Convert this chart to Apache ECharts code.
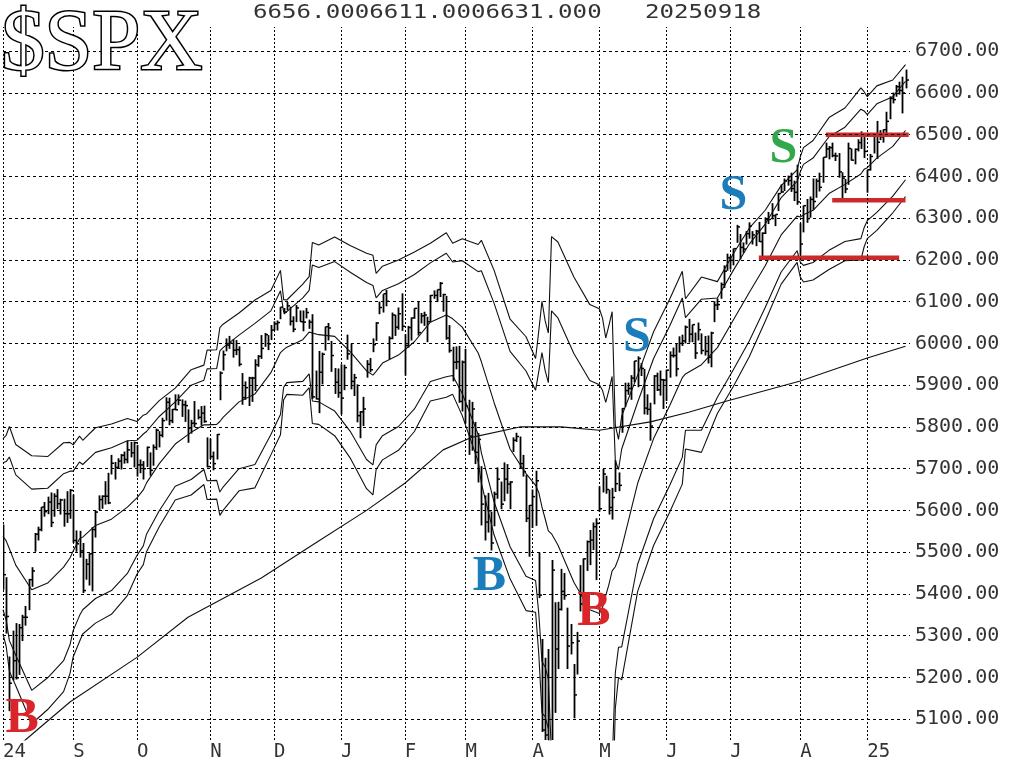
<!DOCTYPE html>
<html>
<head>
<meta charset="utf-8">
<title>$SPX</title>
<script src="https://cdn.jsdelivr.net/npm/echarts@6/dist/echarts.min.js"></script>
<style>
  html, body { margin: 0; padding: 0; background: #fff; }
  #chart { width: 1021px; height: 763px; }
</style>
</head>
<body>
<div id="chart"></div>
<script>
// daily bars, one per trading day, Aug 1 2024 .. Sep 18 2025
const highs = [
  5566,5440,5250,5312,5330,5328,5350,5371,5436,5464,5546,5561,5608,5620,5633,5643,5641,5651,5628,5628,5646,5651, // aug
  5638,5552,5551,5522,5484,5497,5560,5600,5636,5636,5670,5690,5733,5716,5725,5735,5741,5767,5764,5765, // sep
  5757,5722,5718,5753,5739,5758,5796,5790,5822,5871,5870,5843,5878,5878,5866,5863,5842,5817,5862,5842,5850,5851,5775, // oct
  5772,5741,5783,5933,5983,6012,6018,6010,6008,5993,5929,5909,5920,5920,5962,5972,6020,6025,6020,6044, // nov
  6053,6055,6087,6085,6099,6088,6065,6092,6079,6079,6085,6057,6070,5935,5982,5978,6040,6049,6006,5941,5940, // dec
  5950,5949,6021,6000,5927,5902,5838,5872,5960,5965,6012,6051,6100,6118,6128,6017,6074,6069,6086,6120, // jan
  6022,6042,6062,6084,6101,6073,6076,6064,6116,6127,6129,6147,6119,6114,6044,5992,5993,5994,5959, // feb
  5987,5865,5860,5812,5785,5706,5636,5642,5597,5645,5703,5669,5715,5711,5670,5775,5786,5777,5733,5685,5613, // mar
  5650,5695,5499,5292,5247,5268,5481,5380,5381,5460,5450,5367,5328,5232,5309,5469,5485,5528,5553,5571,5581, // apr
  5658,5700,5683,5650,5654,5720,5691,5845,5906,5906,5924,5958,5969,5953,5939,5878,5858,5924,5930,5935,5915, // may
  5937,5981,5990,5999,6017,6021,6043,6059,6045,6026,6050,6024,6018,6019,6028,6101,6108,6146,6187,6215, // jun
  6210,6227,6284,6262,6242,6269,6290,6269,6272,6291,6266,6302,6315,6336,6309,6360,6381,6395,6402,6409,6390,6428, // jul
  6288,6330,6346,6352,6395,6395,6409,6446,6481,6473,6481,6457,6456,6410,6394,6481,6467,6467,6489,6508,6495, // aug
  6416,6454,6503,6533,6511,6513,6555,6592,6601,6619,6627,6639,6656 // sep
];
const lows = [
  5410,5305,5119,5193,5195,5206,5287,5324,5361,5417,5501,5528,5550,5585,5591,5560,5585,5603,5590,5561,5570,5580,
  5522,5501,5487,5402,5434,5420,5406,5535,5601,5604,5614,5615,5686,5674,5701,5698,5712,5713,5727,5703,
  5681,5689,5674,5704,5683,5707,5745,5751,5775,5815,5804,5809,5840,5852,5824,5812,5762,5784,5799,5818,5803,5810,5703,
  5723,5696,5722,5864,5935,5981,5987,5966,5972,5945,5853,5865,5850,5860,5886,5944,5963,5992,5984,6008,
  6031,6031,6058,6070,6079,6043,6027,6051,6052,6029,6060,6035,5867,5866,5833,5902,5983,6007,5932,5879,5870,
  5830,5888,5961,5890,5874,5811,5773,5802,5918,5931,5979,6006,6070,6074,6089,5962,6010,6018,6033,6030,
  5923,5990,6007,6059,6019,6048,6042,6003,6051,6107,6099,6111,6076,6009,5978,5909,5938,5858,5837,
  5808,5733,5743,5711,5667,5564,5528,5547,5504,5562,5628,5603,5622,5640,5603,5740,5764,5701,5681,5572,5489,
  5558,5563,5390,5069,4835,4910,4857,5115,5220,5360,5386,5220,5255,5102,5207,5358,5371,5455,5469,5505,5433,
  5597,5643,5640,5590,5578,5644,5646,5786,5848,5877,5865,5907,5895,5922,5830,5829,5767,5854,5886,5875,5843,
  5862,5918,5966,5921,5978,5994,6000,6002,6003,5963,6007,5974,5971,5952,5943,6051,6080,6107,6133,6174,
  6177,6187,6241,6201,6217,6237,6251,6237,6233,6243,6201,6262,6286,6297,6281,6317,6360,6365,6378,6363,6341,6332,
  6212,6266,6289,6301,6320,6349,6364,6385,6445,6441,6446,6437,6397,6344,6360,6380,6438,6429,6460,6466,6444,
  6361,6414,6455,6442,6487,6481,6499,6537,6575,6591,6596,6551,6611
];
const closes = [
  5446,5346,5186,5240,5199,5319,5344,5344,5434,5455,5543,5554,5608,5597,5620,5571,5634,5616,5625,5592,5592,5648,
  5528,5520,5503,5408,5471,5496,5554,5596,5626,5634,5634,5618,5713,5703,5718,5732,5722,5745,5738,5762,
  5709,5709,5700,5751,5696,5751,5792,5780,5815,5859,5815,5842,5841,5864,5853,5851,5797,5809,5808,5823,5833,5813,5705,
  5729,5712,5782,5929,5973,5996,6001,5984,5985,5950,5870,5894,5917,5917,5949,5969,5988,6021,5999,6032,
  6047,6050,6087,6075,6090,6053,6034,6085,6052,6051,6074,6051,5872,5867,5931,5974,6040,6037,5971,5907,5882,
  5869,5942,5975,5909,5918,5827,5836,5843,5950,5937,5997,6049,6086,6119,6101,6012,6068,6039,6071,6041,
  5995,6038,6061,6084,6026,6066,6068,6052,6115,6115,6129,6144,6117,6013,5983,5955,5956,5861,5955,
  5850,5778,5843,5739,5770,5615,5572,5599,5522,5639,5675,5615,5675,5663,5668,5768,5777,5712,5693,5581,5612,
  5633,5671,5397,5074,5062,4982,5457,5268,5363,5406,5396,5275,5283,5158,5287,5376,5484,5525,5529,5561,5569,
  5604,5687,5650,5607,5631,5664,5660,5844,5887,5892,5917,5958,5964,5940,5845,5842,5802,5922,5889,5913,5912,
  5936,5971,5971,5939,6000,6006,6039,6022,6045,5977,6033,5983,5981,5967,6025,6092,6093,6141,6173,6205,
  6199,6227,6279,6230,6226,6263,6281,6260,6269,6244,6264,6297,6297,6306,6309,6359,6363,6389,6390,6371,6362,6339,
  6238,6330,6299,6345,6340,6389,6374,6446,6466,6469,6450,6449,6411,6396,6370,6467,6439,6465,6481,6502,6460,
  6416,6448,6502,6482,6495,6512,6532,6587,6584,6615,6606,6600,6631
];
const lastDate = '20250918';

// month gridlines (bar index of first trading day) and their labels
const monthStart = [0, 22, 42, 65, 85, 106, 126, 145, 166, 187, 208, 228, 250, 271];
const monthLabel = ['24', 'S', 'O', 'N', 'D', 'J', 'F', 'M', 'A', 'M', 'J', 'J', 'A', '25'];
const priceTicks = [5100, 5200, 5300, 5400, 5500, 5600, 5700, 5800, 5900, 6000, 6100, 6200, 6300, 6400, 6500, 6600, 6700];

// band lines at these bar indexes
const bandIdx = [0,1,2,4,9, 14,19,21,22,24, 25,29,34,39,42, 44,45,49,54,59, 63,64,67,68,69, 74,79,84,87,88,
  89,94,96,97,99, 104,109,114,116,117, 119,124,129,134,139, 141,144,149,150,154, 159,164,167,168,169,
  170,171,172,174,179, 184,187,188,189,190, 191,192,193,194,199, 204,209,213,214,219, 224,229,234,239,244,
  249,250,251,254,259, 264,269,270,271,274, 279,283];
const upper4 = [5772,5780,5801,5758,5731, 5729,5762,5763,5757,5778, 5768,5798,5807,5820,5813, 5828,5831,5863,5893,5937,
  5948,5984,5985,6038,6046, 6073,6104,6127,6175,6105, 6104,6142,6160,6242,6236, 6255,6234,6216,6211,6168,
  6185,6200,6219,6240,6265, 6240,6251,6237,6247,6175, 6058,6016,5964,6030,6101, 6054,6025,6256,6243,6159,
  6093,6083,6060,6013,6043, 6076,5804,5770,5826,5924, 6028,6105,6173,6107,6159, 6148,6215,6276,6319,6378,
  6416,6447,6469,6486,6541, 6564,6612,6603,6591,6617, 6631,6668];
const upper3 = [5714,5717,5728,5685,5651, 5653,5688,5694,5694,5716, 5710,5739,5750,5767,5768, 5783,5789,5825,5860,5900,
  5912,5939,5940,5982,5990, 6020,6048,6078,6126,6075, 6076,6109,6127,6188,6182, 6196,6170,6146,6139,6109,
  6127,6143,6165,6193,6216, 6195,6198,6172,6174,6096, 5981,5934,5888,5933,5978, 5935,5906,6078,6061,5976,
  5911,5901,5887,5859,5888, 5921,5719,5698,5747,5859, 5964,6041,6109,6062,6106, 6109,6175,6238,6286,6349,
  6388,6411,6429,6444,6495, 6518,6561,6557,6548,6574, 6591,6628];
const mid20 = [5538,5527,5508,5469,5410, 5426,5464,5486,5503,5532, 5536,5564,5579,5608,5630, 5649,5666,5712,5759,5787,
  5805,5805,5806,5813,5823, 5860,5879,5930,5978,5985, 5991,6009,6027,6025,6021, 6017,5979,5934,5924,5933,
  5953,5972,6004,6051,6068, 6059,6039,5977,5956,5858, 5747,5688,5660,5643,5608, 5580,5551,5544,5517,5428,
  5362,5353,5368,5396,5423, 5455,5465,5485,5510,5665, 5772,5850,5918,5927,5949, 5990,6056,6122,6186,6260,
  6305,6303,6308,6319,6359, 6381,6406,6417,6421,6444, 6472,6510];
const lower3 = [5362,5337,5288,5253,5169, 5199,5240,5278,5312,5348, 5362,5389,5408,5449,5492, 5515,5543,5599,5658,5674,
  5698,5671,5672,5644,5656, 5700,5710,5782,5830,5895, 5906,5909,5927,5862,5860, 5838,5788,5722,5709,5757,
  5779,5801,5843,5909,5920, 5923,5880,5782,5738,5620, 5513,5442,5432,5353,5238, 5225,5196,5010,4973,4880,
  4813,4805,4849,4933,4958, 4989,5211,5272,5273,5471, 5580,5659,5727,5792,5792, 5871,5937,6006,6086,6171,
  6222,6195,6187,6194,6223, 6244,6251,6277,6294,6314, 6353,6392];
const lower4 = [5304,5274,5215,5180,5089, 5123,5166,5209,5249,5286, 5304,5330,5351,5396,5447, 5470,5501,5561,5625,5637,
  5662,5626,5627,5588,5600, 5647,5654,5733,5781,5865, 5878,5876,5894,5808,5806, 5779,5724,5652,5637,5698,
  5721,5744,5789,5862,5871, 5878,5827,5717,5665,5541, 5436,5360,5356,5256,5115, 5106,5077,4832,4791,4697,
  4631,4623,4676,4779,4803, 4834,5126,5200,5194,5406, 5516,5595,5663,5747,5739, 5832,5897,5968,6053,6142,
  6194,6159,6147,6152,6177, 6198,6200,6231,6251,6271, 6313,6352];

// 200-day average
const ma200Idx = [0, 7, 21, 42, 58, 81, 98, 114, 126, 138, 147, 162, 175, 187, 203, 215, 227, 250, 271, 283];
const ma200 = [5005, 5050, 5141, 5248, 5344, 5438, 5522, 5600, 5665, 5745, 5775, 5800, 5800, 5792, 5812, 5835, 5862, 5910, 5965, 5993];

// red support levels
const levelPrice = [6500, 6343, 6205];
const levelFrom = [258, 260, 237];
const levelTo = [284, 283, 281];

// signal letters
const sigText = ['B', 'B', 'B', 'S', 'S', 'S'];
const sigIdx = [6, 152.5, 185.3, 198.8, 229, 244.7];
const sigPrice = [5100, 5440, 5356, 6013, 6353, 6465];
const sigKind = ['red', 'blue', 'red', 'blue', 'blue', 'green'];

const kindColor = { red: '#d8262b', blue: '#1b7db9', green: '#33a84b' };
const monoFont = '"DejaVu Sans Mono", "Liberation Mono", monospace';
const serifFont = '"Liberation Serif", "DejaVu Serif", serif';

const zip = (xs, ys) => xs.map((x, k) => [x, ys[k]]);
const bars = highs.map((h, i) => [i, h, lows[i], closes[i]]);
const last = highs.length - 1;

const bandLine = (data) => ({
  type: 'line', data: data, symbol: 'none', clip: true, silent: true, z: 3,
  lineStyle: { color: '#111', width: 1.1 }
});

const chart = echarts.init(document.getElementById('chart'), null, { renderer: 'canvas' });

chart.setOption({
  animation: false,
  backgroundColor: '#fff',
  grid: { left: 0, right: 111, top: 27, bottom: 23, containLabel: false },
  xAxis: {
    type: 'value', min: 0, max: 284.4,
    axisLine: { show: false }, axisTick: { show: false }, splitLine: { show: false },
    axisLabel: {
      customValues: monthStart,
      formatter: v => monthLabel[monthStart.indexOf(v)],
      align: 'left', margin: 3, color: '#333', fontSize: 19, fontFamily: monoFont
    }
  },
  yAxis: {
    type: 'value', min: 5050, max: 6758, position: 'right',
    axisLine: { show: false }, axisTick: { show: false }, splitLine: { show: false },
    axisLabel: {
      customValues: priceTicks,
      formatter: v => v.toFixed(2),
      margin: 5, color: '#333', fontSize: 20, fontFamily: monoFont
    }
  },
  graphic: [
    { type: 'text', left: 0, top: 2, z: 10,
      style: { text: '$SPX', font: '86px ' + serifFont, fill: '#fff', stroke: '#000', lineWidth: 3 } },
    { type: 'text', left: 253, top: 4, scaleX: 1.27, z: 10,
      style: { text: highs[last].toFixed(3) + lows[last].toFixed(3) + closes[last].toFixed(3),
               font: '19px ' + monoFont, fill: '#333' } },
    { type: 'text', left: 645, top: 4, scaleX: 1.27, z: 10,
      style: { text: lastDate, font: '19px ' + monoFont, fill: '#333' } }
  ],
  series: [
    { // dashed grid
      type: 'line', data: [], silent: true, z: 1,
      markLine: {
        silent: true, symbol: ['none', 'none'], label: { show: false }, animation: false,
        lineStyle: { color: '#000', width: 1, type: [3, 3] },
        data: priceTicks.map(v => ({ yAxis: v }))
          .concat(monthStart.map(i => ({ xAxis: i, lineStyle: { type: [2, 2] } })))
      }
    },
    {
      type: 'custom', data: bars, clip: true, silent: true, z: 2,
      renderItem: function (params, api) {
        const i = api.value(0);
        const top = api.coord([i, api.value(1)]);
        const bot = api.coord([i, api.value(2)]);
        const c = api.coord([i, api.value(3)]);
        const x = Math.round(top[0]) + 0.5;
        return {
          type: 'group',
          children: [
            { type: 'line', shape: { x1: x, y1: top[1], x2: x, y2: bot[1] },
              style: { stroke: '#000', lineWidth: 1.8 } },
            { type: 'line', shape: { x1: x, y1: c[1], x2: x + 2.5, y2: c[1] },
              style: { stroke: '#000', lineWidth: 1.5 } }
          ]
        };
      }
    },
    bandLine(zip(bandIdx, upper4)),
    bandLine(zip(bandIdx, upper3)),
    bandLine(zip(bandIdx, mid20)),
    bandLine(zip(bandIdx, lower3)),
    bandLine(zip(bandIdx, lower4)),
    bandLine(zip(ma200Idx, ma200)),
    ...levelPrice.map((p, k) => ({
      type: 'line', data: [[levelFrom[k], p], [levelTo[k], p]], symbol: 'none', silent: true, z: 4,
      clip: false, lineStyle: { color: '#cc2a2a', width: 4.5, opacity: 1 }
    })),
    {
      type: 'scatter', symbolSize: 0, silent: true, z: 5, clip: false,
      itemStyle: { opacity: 1 },
      data: sigText.map((t, k) => ({
        name: t, value: [sigIdx[k], sigPrice[k]],
        label: { color: kindColor[sigKind[k]] }
      })),
      label: {
        show: true, position: 'inside', formatter: '{b}', opacity: 1,
        fontFamily: serifFont, fontWeight: 'bold', fontSize: 50
      }
    }
  ]
});
</script>
</body>
</html>
